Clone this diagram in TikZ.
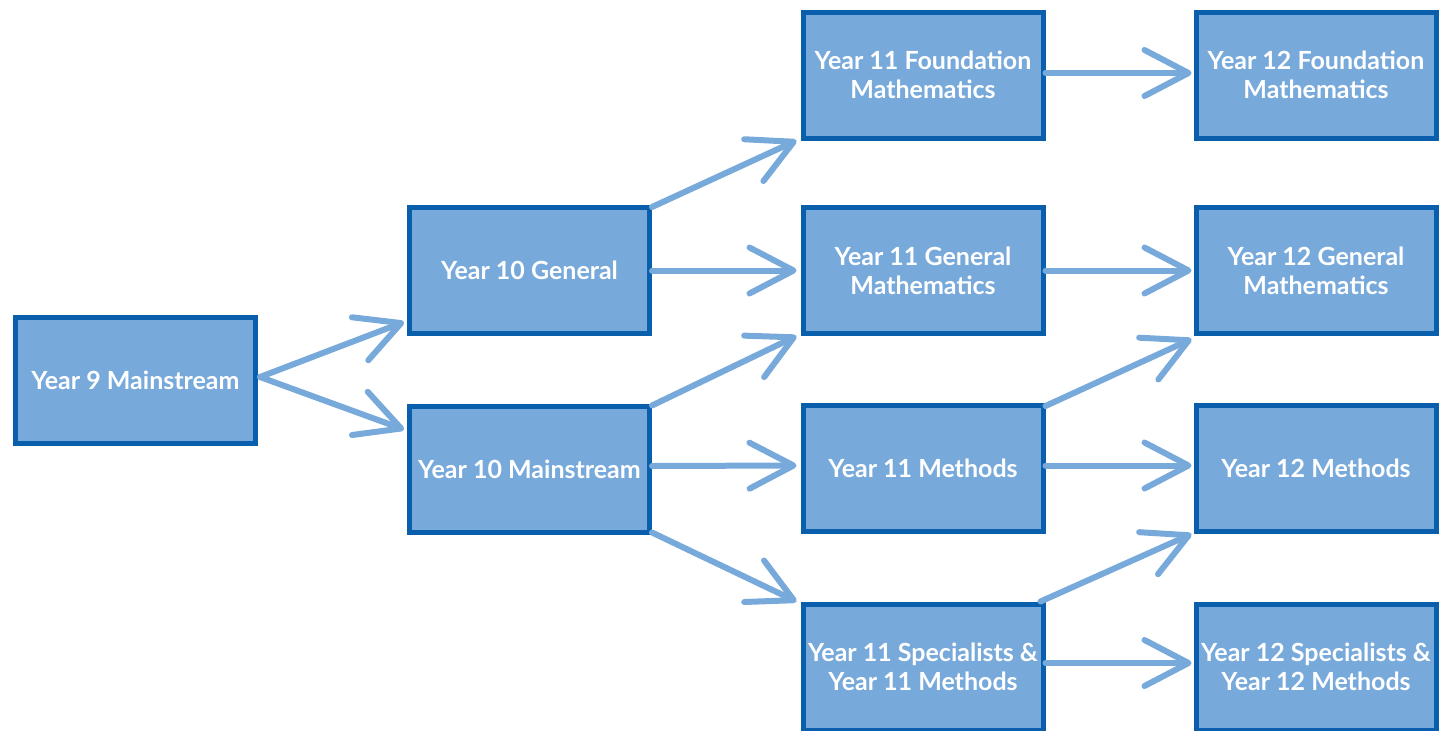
\documentclass[tikz,border=0pt]{standalone}
\usepackage{fontspec}
\setmainfont{Lato}
\usetikzlibrary{arrows.meta}
\definecolor{boxfill}{HTML}{77A9DB}
\definecolor{boxline}{HTML}{0A5FAD}
\definecolor{arrowcol}{HTML}{77A9DB}
\tikzset{
  stagebox/.style={draw=boxline, line width=5pt, fill=boxfill, minimum width=240pt, minimum height=126pt,
    inner sep=0pt, align=center, text=white, font=\fontsize{25}{29}\selectfont\bfseries},
  flow/.style={draw=arrowcol, line width=6pt, line cap=round,
    -{Straight Barb[length=44pt,width=46pt,line width=6pt,round]}},
}
\begin{document}
\begin{tikzpicture}[x=1pt,y=-1pt]
\useasboundingbox (0,0) rectangle (1441,731);
\node[stagebox] (y9) at (135.5,380) {Year 9 Mainstream};
\node[stagebox] (y10g) at (529.5,270.5) {Year 10 General};
\node[stagebox] (y10m) at (529.5,469) {Year 10 Mainstream};
\node[stagebox] (y11f) at (923,75) {Year 11 Foundation\\Mathematics};
\node[stagebox] (y11g) at (923,270.5) {Year 11 General\\Mathematics};
\node[stagebox] (y11m) at (923,468.5) {Year 11 Methods};
\node[stagebox] (y11s) at (923,667) {Year 11 Specialists \&\\Year 11 Methods};
\node[stagebox] (y12f) at (1316,75) {Year 12 Foundation\\Mathematics};
\node[stagebox] (y12g) at (1316,270.5) {Year 12 General\\Mathematics};
\node[stagebox] (y12m) at (1316,468.5) {Year 12 Methods};
\node[stagebox] (y12s) at (1316,667) {Year 12 Specialists \&\\Year 12 Methods};
% arrows
\draw[flow] ([xshift=2pt,yshift=3pt]y9.east) -- ([xshift=-3pt,yshift=14pt]y10g.south west);
\draw[flow] ([xshift=2pt,yshift=3pt]y9.east) -- ([xshift=-3pt,yshift=-26pt]y10m.north west);
\draw[flow] ([yshift=-2pt]y10g.north east) -- ([xshift=-4pt]y11f.south west);
\draw[flow] (y10g.east) -- ([xshift=-4pt]y11g.west);
\draw[flow] ([yshift=-2pt]y10m.north east) -- ([xshift=-4pt]y11g.south west);
\draw[flow] ([yshift=3pt]y10m.east) -- ([xshift=-4pt,yshift=3pt]y11m.west);
\draw[flow] ([yshift=2pt]y10m.south east) -- ([xshift=-4pt]y11s.north west);
\draw[flow] ([yshift=2pt]y11f.east) -- ([xshift=-2pt,yshift=2pt]y12f.west);
\draw[flow] (y11g.east) -- ([xshift=-2pt]y12g.west);
\draw[flow] ([yshift=-3pt]y11m.north east) -- ([xshift=-2pt,yshift=-3pt]y12g.south west);
\draw[flow] ([yshift=3pt]y11m.east) -- ([xshift=-2pt,yshift=3pt]y12m.west);
\draw[flow] ([xshift=-5pt]y11s.north east) -- ([xshift=-2pt]y12m.south west);
\draw[flow] ([yshift=4pt]y11s.east) -- ([xshift=-2pt,yshift=4pt]y12s.west);
\end{tikzpicture}
\end{document}
